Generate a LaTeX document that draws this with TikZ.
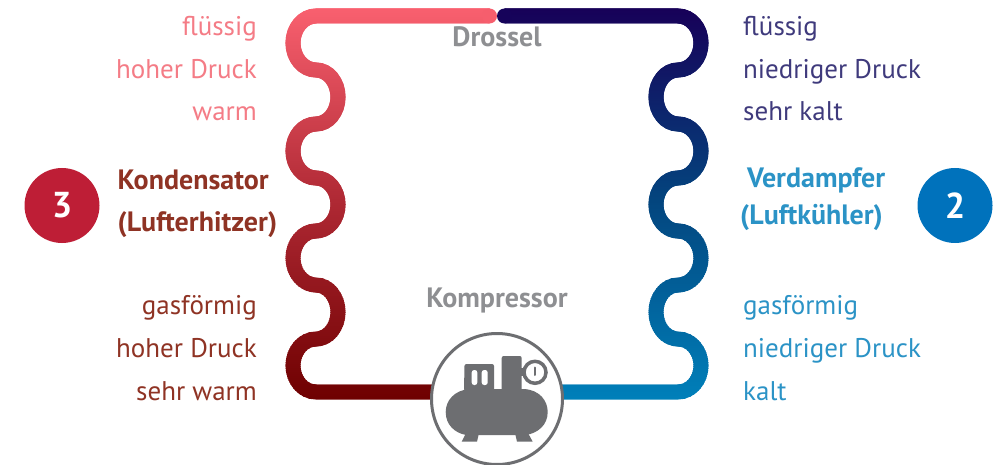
\documentclass[tikz,border=0pt]{standalone}
\usepackage{fontspec}
\setmainfont{PT Sans}
\definecolor{lTop}{HTML}{F9606F}
\definecolor{lMid}{HTML}{AE2833}
\definecolor{lBot}{HTML}{6E0000}
\definecolor{rTop}{HTML}{170058}
\definecolor{rMid}{HTML}{03467F}
\definecolor{rBot}{HTML}{0080BA}
\definecolor{iconGray}{HTML}{6D6E71}
\definecolor{labelGray}{HTML}{8E8F92}
\definecolor{warmA}{HTML}{F47C86}
\definecolor{warmB}{HTML}{8F3324}
\definecolor{coldA}{HTML}{3F3A7C}
\definecolor{coldB}{HTML}{2B93C6}
\definecolor{numRed}{HTML}{BE1E36}
\definecolor{numBlue}{HTML}{0072BC}
\tikzset{
  pipe/.style={line width=15pt,line cap=butt},
  lbl/.style={font=\fontsize{27}{27}\selectfont,inner sep=0pt},
  leftlbl/.style={lbl,anchor=base east},
  rightlbl/.style={lbl,anchor=base west},
  headlbl/.style={font=\fontsize{28}{27}\selectfont\bfseries,inner sep=0pt,anchor=base west},
  graylbl/.style={font=\fontsize{28}{28}\selectfont\bfseries,inner sep=0pt,anchor=base,text=labelGray},
  numdisc/.style={circle,minimum size=75pt,inner sep=0pt,text=white,font=\fontsize{36}{36}\selectfont\bfseries},
  lb/.style={start angle=270,end angle=90},
  rb/.style={start angle=-90,end angle=90},
}
\newcommand{\leftpipe}{(489.5,16) -- (316,16)
  arc[lb,x radius=23,y radius=27]
  arc[rb,x radius=22,y radius=27]
  arc[lb,x radius=23,y radius=27]
  arc[rb,x radius=22,y radius=26.5]
  arc[lb,x radius=23,y radius=27]
  arc[rb,x radius=22,y radius=27]
  arc[lb,x radius=23,y radius=26.5] -- (440,392)}
\newcommand{\rightpipe}{(504.5,16) -- (678,16)
  arc[rb,x radius=23,y radius=27]
  arc[lb,x radius=22,y radius=27]
  arc[rb,x radius=23,y radius=27]
  arc[lb,x radius=22,y radius=26.5]
  arc[rb,x radius=23,y radius=27]
  arc[lb,x radius=22,y radius=27]
  arc[rb,x radius=23,y radius=26.5] -- (555,392)}
\begin{document}
\begin{tikzpicture}[x=1pt,y=-1pt]
\useasboundingbox (0,0) rectangle (993,465);
% gradient pipes: horizontal bands along the height
\foreach \yy in {6,8,...,402}{
  \pgfmathsetmacro{\t}{(\yy-8)/392}
  \pgfmathparse{\t<0.5 ? 200*\t : 200*(\t-0.5)}\let\pp\pgfmathresult
  \pgfmathparse{\t<0.5 ? 1 : 0}\let\hh\pgfmathresult
  \ifnum\hh=1
    \colorlet{bandL}{lMid!\pp!lTop}\colorlet{bandR}{rMid!\pp!rTop}
  \else
    \colorlet{bandL}{lBot!\pp!lMid}\colorlet{bandR}{rBot!\pp!rMid}
  \fi
  \begin{scope}
    \clip (270,\yy) rectangle (489.5,\yy+2.4);
    \draw[pipe,bandL] \leftpipe;
  \end{scope}
  \begin{scope}
    \clip (504.5,\yy) rectangle (730,\yy+2.4);
    \draw[pipe,bandR] \rightpipe;
  \end{scope}
}
% round pipe ends at the top and compressor disc
\coordinate (capL) at (489.5,16);
\coordinate (capR) at (504.5,16);
\fill[lMid!4!lTop] (capL) circle (7.5);
\fill[rMid!4!rTop] (capR) circle (7.5);
\node[circle,minimum size=131pt,draw=iconGray,line width=3pt,fill=white,inner sep=0pt] (comp) at (497,399) {};
% compressor icon
\fill[iconGray] (470,389) .. controls (454,390) and (445.7,401) .. (445.7,412)
  .. controls (445.7,425) and (455,433) .. (466,435) -- (526,435)
  .. controls (538,433) and (547.7,425) .. (547.7,412)
  .. controls (547.7,401) and (540,390) .. (524,389) -- cycle;
\fill[iconGray] (466,433) -- (479,433) -- (477,441.7) -- (461.7,441.7) -- cycle;
\fill[iconGray] (515,433) -- (528,433) -- (532.7,441.7) -- (517,441.7) -- cycle;
\fill[iconGray,rounded corners=2pt] (464,391) -- (464.5,364) -- (494,364) -- (494,391) -- cycle;
\fill[white,rounded corners=2.5pt] (471.7,370) rectangle (477.3,385);
\fill[white,rounded corners=2.5pt] (481.7,370) rectangle (487.7,385);
\fill[iconGray,rounded corners=2pt] (501.7,391) -- (501.7,356) -- (521.7,356) -- (521.7,391) -- cycle;
\fill[iconGray] (520,368) rectangle (526,376);
\draw[iconGray,line width=3.5pt,fill=white] (535,372.3) circle (11);
\draw[iconGray,line width=2pt,line cap=round] (535,367.5) -- (535,375);
% labels
\node[leftlbl,text=warmA] (l1) at (257,36) {flüssig};
\node[leftlbl,text=warmA] (l2) at (257,79) {hoher Druck};
\node[leftlbl,text=warmA] (l3) at (257,121) {warm};
\node[leftlbl,text=warmB] (l4) at (257,314) {gasförmig};
\node[leftlbl,text=warmB] (l5) at (257,357) {hoher Druck};
\node[leftlbl,text=warmB] (l6) at (257,400) {sehr warm};
\node[rightlbl,text=coldA] (r1) at (743,36) {flüssig};
\node[rightlbl,text=coldA] (r2) at (743,79) {niedriger Druck};
\node[rightlbl,text=coldA] (r3) at (743,121) {sehr kalt};
\node[rightlbl,text=coldB] (r4) at (743,314) {gasförmig};
\node[rightlbl,text=coldB] (r5) at (743,357) {niedriger Druck};
\node[rightlbl,text=coldB] (r6) at (743,400) {kalt};
\node[headlbl,text=warmB] (h1) at (117.5,190) {Kondensator};
\node[headlbl,text=warmB] (h2) at (117.5,231) {(Lufterhitzer)};
\node[headlbl,text=coldB] (h3) at (747,188) {Verdampfer};
\node[headlbl,text=coldB] (h4) at (740,225) {(Luftkühler)};
\node[graylbl] (dr) at (497,47) {Drossel};
\node[graylbl] (ko) at (497,307) {Kompressor};
\node[numdisc,fill=numRed] (n3) at (62,205.5) {3};
\node[numdisc,fill=numBlue] (n2) at (955,205.5) {2};
\end{tikzpicture}
\end{document}
